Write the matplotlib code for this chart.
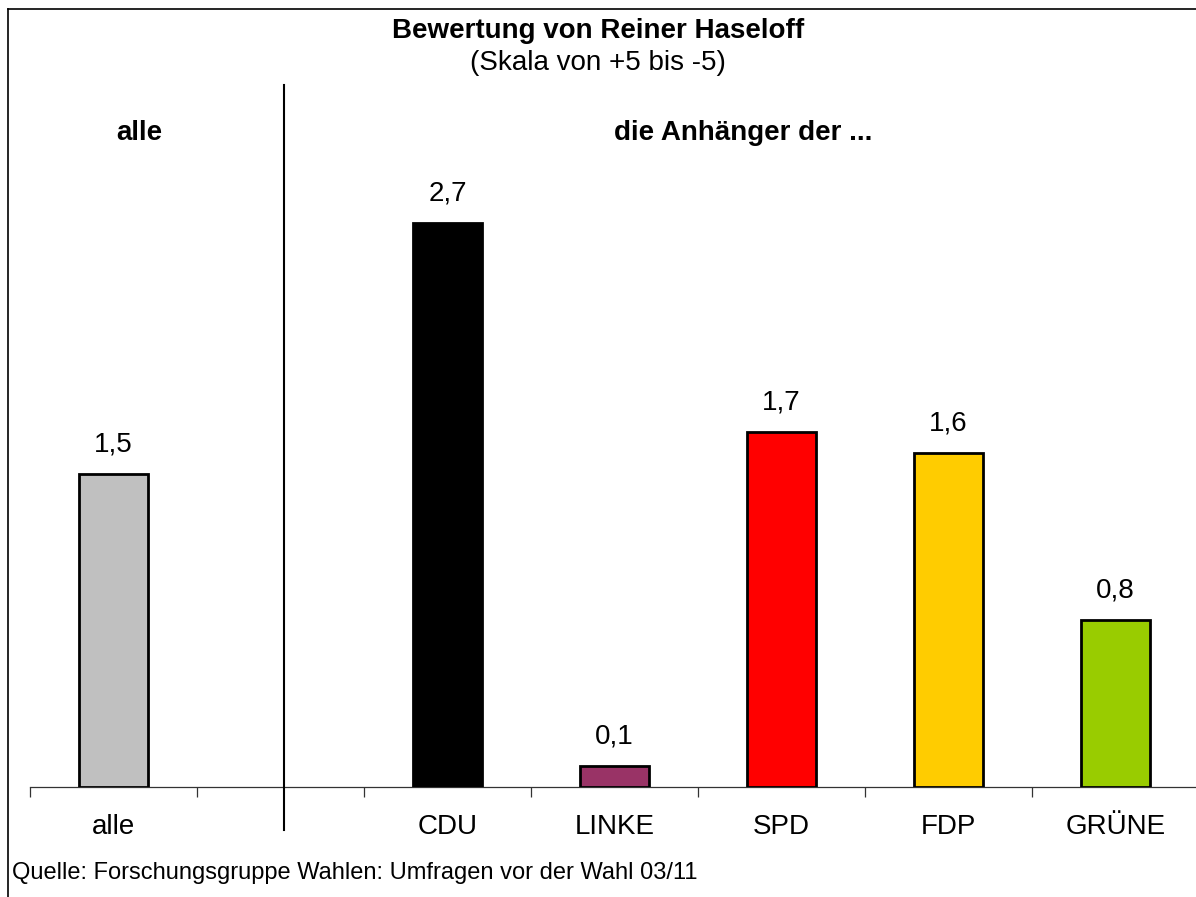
import matplotlib
matplotlib.use("Agg")
import matplotlib.pyplot as plt
from matplotlib.lines import Line2D

plt.rcParams['font.family'] = ['Liberation Sans', 'DejaVu Sans']

# data
categories = ['alle', '', 'CDU', 'LINKE', 'SPD', 'FDP', 'GRÜNE']
values = [1.5, None, 2.7, 0.1, 1.7, 1.6, 0.8]
labels = ['1,5', '', '2,7', '0,1', '1,7', '1,6', '0,8']
colours = ['#C0C0C0', None, '#000000', '#993366', '#FF0000', '#FFCC00', '#99CC00']

W, H = 1196, 897
fig = plt.figure(figsize=(W / 100, H / 100), dpi=100)
# axes: 7 slots from x=30 to 1199 px, baseline at y=787 px, 209 px per unit
ax = fig.add_axes([30 / W, (H - 787) / H, 1169 / W, 731.5 / H])
ax.set_xlim(-0.5, 6.5)
ax.set_ylim(0, 3.5)

for i, v in enumerate(values):
    if v is None:
        continue
    ax.bar(i, v, width=0.41, color=colours[i], edgecolor='black', linewidth=2, zorder=3)
    ax.annotate(labels[i], (i, v), xytext=(0, 21), textcoords='offset points',
                ha='center', va='center', fontsize=20)

for s in ['top', 'right', 'left']:
    ax.spines[s].set_visible(False)
ax.spines['bottom'].set_linewidth(0.9)
ax.spines['bottom'].set_color('#333333')
ax.set_yticks([])
ax.set_xticks([i - 0.5 for i in range(7)])
ax.set_xticklabels([])
ax.tick_params(axis='x', length=7, width=0.9, color='#333333')
for i, c in enumerate(categories):
    ax.text(i, -0.19, c, ha='center', va='center', fontsize=20)

# divider between "alle" and the parties
fig.add_artist(Line2D([284 / W, 284 / W], [1 - 85 / H, 1 - 830 / H], color='black', linewidth=1.5))
# frame lines (top and left)
fig.add_artist(Line2D([8 / W, 1], [1 - 9 / H, 1 - 9 / H], color='black', linewidth=1.2))
fig.add_artist(Line2D([8 / W, 8 / W], [1 - 9 / H, 0], color='black', linewidth=1.2))

fig.text(598 / W, 1 - 31 / H, 'Bewertung von Reiner Haseloff', ha='center', va='center',
         fontsize=20, fontweight='bold')
fig.text(598 / W, 1 - 63 / H, '(Skala von +5 bis -5)', ha='center', va='center', fontsize=20)
fig.text(139 / W, 1 - 133 / H, 'alle', ha='center', va='center', fontsize=20, fontweight='bold')
fig.text(743 / W, 1 - 133 / H, 'die Anhänger der ...', ha='center', va='center',
         fontsize=20, fontweight='bold')
fig.text(12 / W, 1 - 873 / H, 'Quelle: Forschungsgruppe Wahlen: Umfragen vor der Wahl 03/11',
         ha='left', va='center', fontsize=17)

fig.savefig('out.png', dpi=100)
